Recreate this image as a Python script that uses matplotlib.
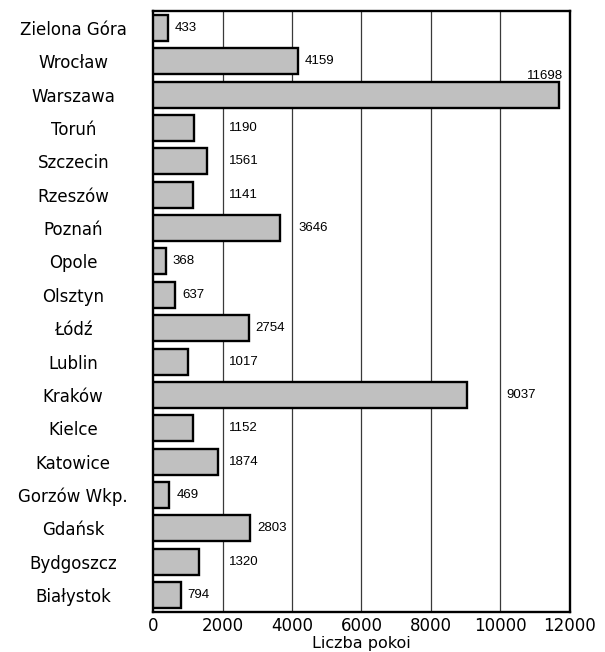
import numpy as np
import matplotlib
matplotlib.use("Agg")
import matplotlib.pyplot as plt


# ----- DATA (top to bottom in the chart) -----
cities = ["Zielona Góra", "Wrocław", "Warszawa", "Toruń", "Szczecin", "Rzeszów",
          "Poznań", "Opole", "Olsztyn", "Łódź", "Lublin", "Kraków", "Kielce",
          "Katowice", "Gorzów Wkp.", "Gdańsk", "Bydgoszcz", "Białystok"]
rooms = [433, 4159, 11698, 1190, 1561, 1141, 3646, 368, 637, 2754, 1017,
         9037, 1152, 1874, 469, 2803, 1320, 794]
x_ticks = [0, 2000, 4000, 6000, 8000, 10000, 12000]
x_label = "Liczba pokoi"

# bottom-up order for barh
cities_b = cities[::-1]
rooms_b = rooms[::-1]
y = np.arange(len(cities_b))

# ----- STYLE -----
BAR_COLOR = "#c0c0c0"
GRID_COLOR = "#3a3a3a"
LABEL_FONT = "DejaVu Sans"
VALUE_FONT = "Liberation Sans"

fig = plt.figure(figsize=(6.05, 6.52), dpi=100)
ax = fig.add_axes([0.253, 0.0615, 0.689, 0.9215])

ax.barh(y, rooms_b, height=0.78, color=BAR_COLOR, edgecolor="black",
        linewidth=1.7, zorder=3)

ax.set_xlim(x_ticks[0], x_ticks[-1])
ax.set_ylim(-0.5, len(y) - 0.5)
ax.set_xticks(x_ticks)
ax.set_xticklabels([str(t) for t in x_ticks], family=LABEL_FONT, fontsize=12)
ax.set_yticks(y)
ax.set_yticklabels(cities_b, family=LABEL_FONT, fontsize=12, ha="center")
ax.tick_params(axis="y", length=0, pad=57.5)
ax.tick_params(axis="x", length=0, pad=4)
ax.set_xlabel(x_label, family=LABEL_FONT, fontsize=11.5, labelpad=0.5)

for g in x_ticks[1:-1]:
    ax.axvline(g, color=GRID_COLOR, linewidth=0.9, zorder=1)

for s in ax.spines.values():
    s.set_linewidth(1.7)
    s.set_color("black")

# ----- VALUE LABELS -----
# label sits just right of the bar; if it would run into a gridline it
# jumps past that gridline; if it would leave the plot it goes above the bar
pad = 200
digit_w = 201
for yi, v in zip(y, rooms_b):
    txt = str(v)
    x0 = v + pad
    x1 = x0 + digit_w * len(txt)
    if x1 > x_ticks[-1]:
        ax.text(v + 100, yi + 0.37, txt, ha="right", va="bottom",
                family=VALUE_FONT, fontsize=9.5, zorder=4)
        continue
    for g in x_ticks[1:-1]:
        if v < g < x1:
            x0 = g + 175
            break
    ax.text(x0, yi, txt, ha="left", va="center", family=VALUE_FONT,
            fontsize=9.5, zorder=4)

plt.savefig("out.png", dpi=100)
